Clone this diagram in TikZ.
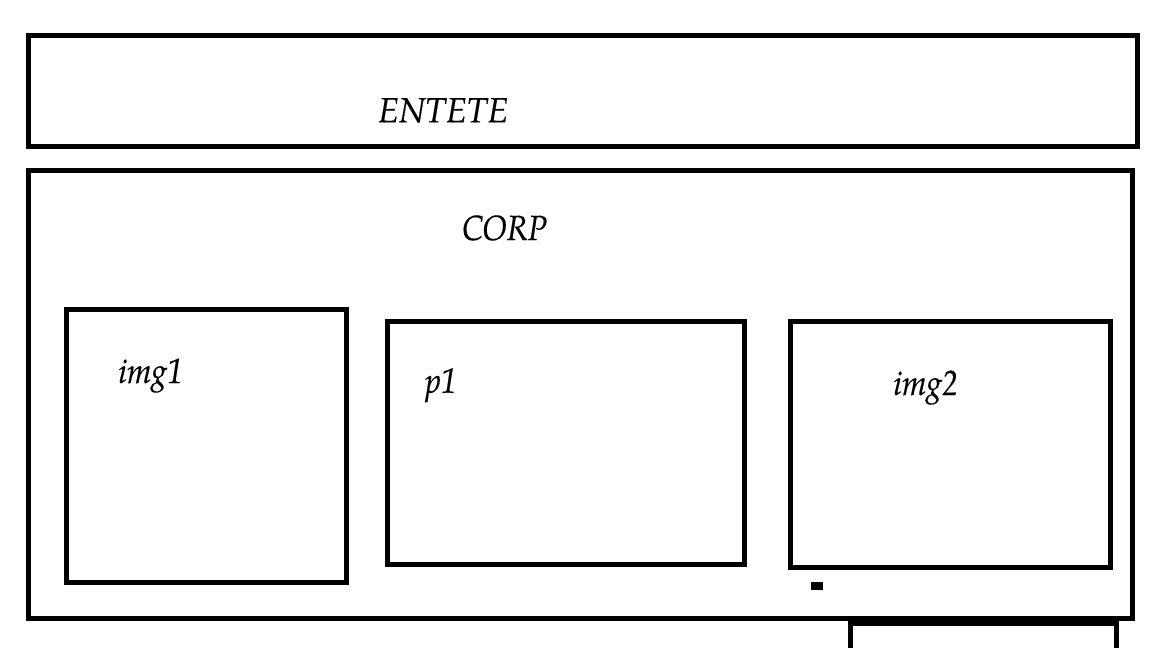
\documentclass[tikz,border=0pt]{standalone}
\usepackage{fontspec}
\setmainfont{TeX Gyre Pagella}
\newfontfamily\lblfont[FakeStretch=0.9,FakeBold=0.4]{TeX Gyre Pagella}
\newfontfamily\widelblfont[FakeStretch=0.97,FakeBold=0.4]{TeX Gyre Pagella}
\begin{document}
\begin{tikzpicture}[x=1pt,y=-1pt,
  frame/.style={draw=black, line width=5pt, line join=miter, rectangle, inner sep=0pt, fill=none},
  lbl/.style={anchor=base west, inner sep=0pt, font=\lblfont\fontsize{35}{42}\selectfont\itshape},
  widelbl/.style={lbl, font=\widelblfont\fontsize{35}{42}\selectfont\itshape},
  dot/.style={fill=black, draw=none, rectangle, inner sep=0pt}]
\fill[white] (0,0) rectangle (1152,648);
\useasboundingbox (0,0) rectangle (1152,648);
\clip (0,0) rectangle (1152,648);
% header
\node[frame, minimum width=1109.5pt, minimum height=111pt] (entete) at (582.75,90.5) {};
\node[widelbl] (tentete) at (378,122.3) {ENTETE};
% body
\node[frame, minimum width=1103.5pt, minimum height=447.5pt] (corp) at (580.25,394.5) {};
\node[lbl] (tcorp) at (462,240) {CORP};
% inner boxes
\node[frame, minimum width=280pt, minimum height=272.6pt] (img1) at (206.5,446) {};
\node[lbl] (timg1) at (118,383) {img1};
\node[frame, minimum width=357.2pt, minimum height=242.3pt] (p1) at (566.1,442.85) {};
\node[lbl] (tp1) at (425,392.7) {p1};
\node[frame, minimum width=320pt, minimum height=245.8pt] (img2) at (950.7,444.6) {};
\node[lbl] (timg2) at (893,395) {img2};
% small square
\node[dot, minimum width=11.5pt, minimum height=8pt] (sq) at (816.75,586) {};
% partial box at the bottom
\coordinate (bl) at (850,660);
\coordinate (tl) at (850,623.2);
\coordinate (tr) at (1116.5,623.2);
\coordinate (br) at (1116.5,660);
\draw[line width=5pt, line join=miter] (bl) -- (tl) -- (tr) -- (br);
\end{tikzpicture}
\end{document}
